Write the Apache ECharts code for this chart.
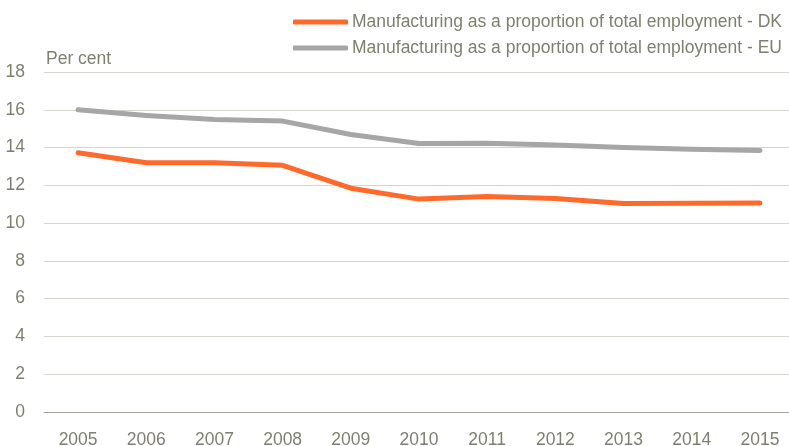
<!DOCTYPE html>
<html><head><meta charset="utf-8">
<script src="https://cdn.jsdelivr.net/npm/echarts@6/dist/echarts.min.js"></script>
<style>html,body{margin:0;padding:0;background:#fff}#c{width:789px;height:446px}</style>
</head><body><div id="c"></div>
<script>
const years = ['2005','2006','2007','2008','2009','2010','2011','2012','2013','2014','2015'];
const dk = [13.73, 13.2, 13.2, 13.06, 11.85, 11.27, 11.41, 11.3, 11.04, 11.05, 11.06];
const eu = [16.0, 15.7, 15.48, 15.4, 14.69, 14.21, 14.23, 14.14, 14.0, 13.91, 13.84];
const dkName = 'Manufacturing as a proportion of total employment - DK';
const euName = 'Manufacturing as a proportion of total employment - EU';
const font = '"Liberation Sans", Arial, sans-serif';
const txt = '#7f7f70';
const fs = 17.5;
const chart = echarts.init(document.getElementById('c'));
chart.setOption({
  animation: false,
  textStyle: {fontFamily: font},
  legend: {
    orient: 'vertical', left: 293, top: 13, padding: 0, itemWidth: 55, itemHeight: 5, itemGap: 8,
    icon: 'roundRect',
    textStyle: {fontFamily: font, fontSize: fs, color: txt, padding: [0,0,0,-1]},
    data: [dkName, euName]
  },
  grid: {left: 44, right: -5, top: 72, bottom: 34, containLabel: false, outerBoundsMode: 'none'},
  xAxis: {
    type: 'category', data: years, boundaryGap: true,
    axisLine: {lineStyle: {color: '#a7a596', width: 1}},
    axisTick: {show: false},
    axisLabel: {fontFamily: font, fontSize: fs, color: txt, margin: 19}
  },
  yAxis: {
    type: 'value', min: 0, max: 18, interval: 2,
    name: 'Per cent', nameLocation: 'end', nameGap: 4,
    nameTextStyle: {fontFamily: font, fontSize: fs, color: txt, align: 'left', padding: [0,0,0,2]},
    axisLine: {show: false}, axisTick: {show: false},
    axisLabel: {fontFamily: font, fontSize: fs, color: txt, margin: 19},
    splitLine: {lineStyle: {color: '#d6d5cc', width: 1}}
  },
  series: [
    {name: dkName, type: 'line', data: dk, symbol: 'none', z: 3,
     lineStyle: {color: '#ff6a2a', width: 5, cap: 'round', join: 'round'}, itemStyle: {color: '#ff6a2a'}},
    {name: euName, type: 'line', data: eu, symbol: 'none', z: 2,
     lineStyle: {color: '#a6a6a6', width: 5, cap: 'round', join: 'round'}, itemStyle: {color: '#a6a6a6'}}
  ]
});
</script></body></html>
